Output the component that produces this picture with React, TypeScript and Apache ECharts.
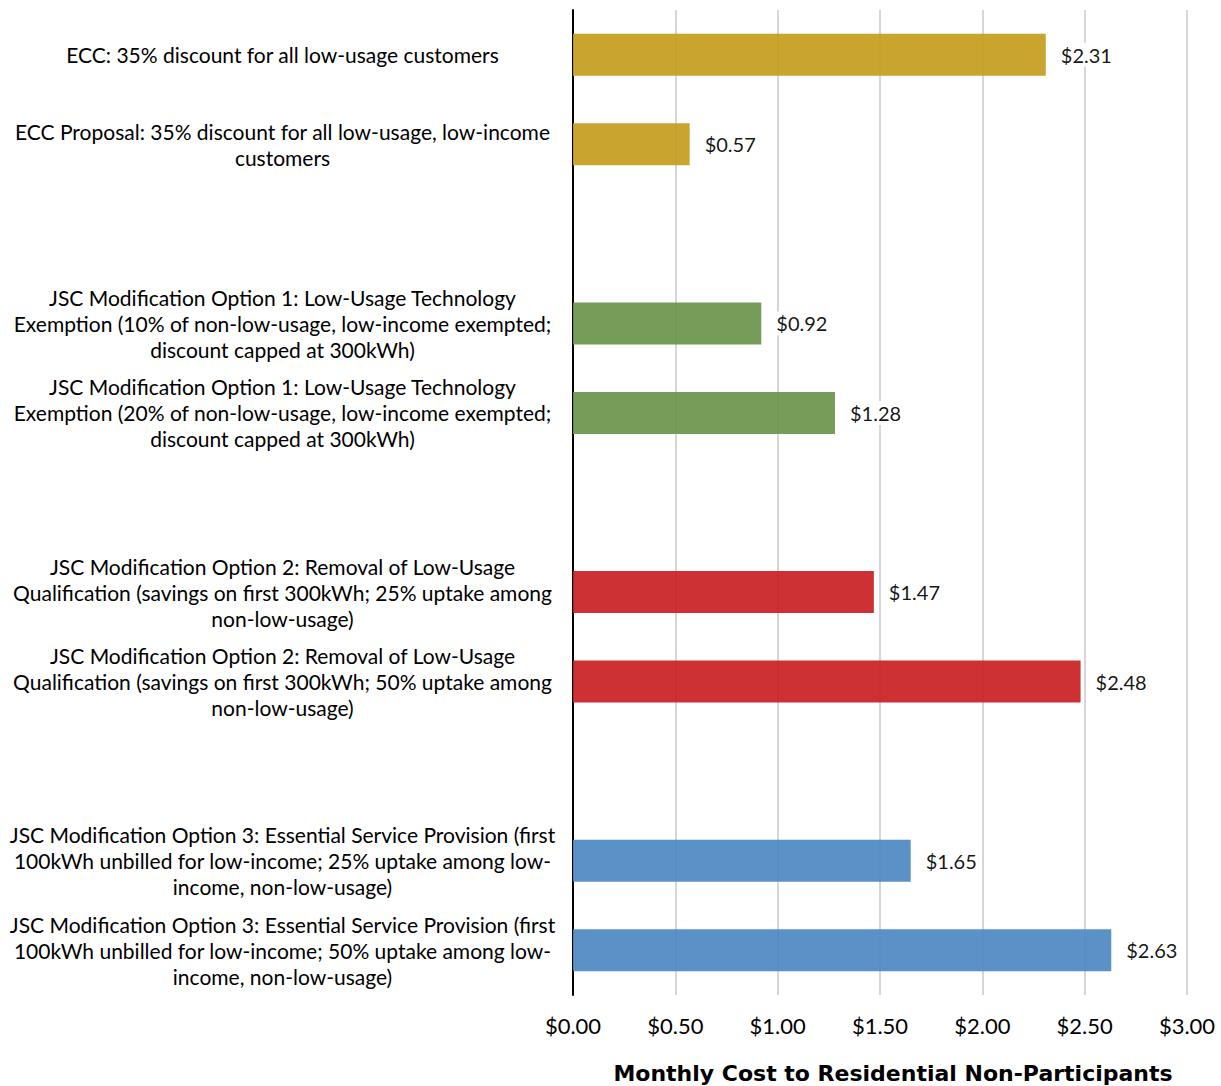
import React, { useEffect, useRef } from "react";
import * as echarts from "echarts";

const categories: string[] = [
  "ECC: 35% discount for all low-usage customers",
  "ECC Proposal: 35% discount for all low-usage, low-income\ncustomers",
  "",
  "JSC Modification Option 1: Low-Usage Technology\nExemption (10% of non-low-usage, low-income exempted;\ndiscount capped at 300kWh)",
  "JSC Modification Option 1: Low-Usage Technology\nExemption (20% of non-low-usage, low-income exempted;\ndiscount capped at 300kWh)",
  "",
  "JSC Modification Option 2: Removal of Low-Usage\nQualification (savings on first 300kWh; 25% uptake among\nnon-low-usage)",
  "JSC Modification Option 2: Removal of Low-Usage\nQualification (savings on first 300kWh; 50% uptake among\nnon-low-usage)",
  "",
  "JSC Modification Option 3: Essential Service Provision (first\n100kWh unbilled for low-income; 25% uptake among low-\nincome, non-low-usage)",
  "JSC Modification Option 3: Essential Service Provision (first\n100kWh unbilled for low-income; 50% uptake among low-\nincome, non-low-usage)",
];

const values: (number | null)[] = [2.31, 0.57, null, 0.92, 1.28, null, 1.47, 2.48, null, 1.65, 2.63];

const groupColors: string[] = [
  "#C49C1D", "#C49C1D", "#ffffff",
  "#6A944C", "#6A944C", "#ffffff",
  "#C92022", "#C92022", "#ffffff",
  "#4C89C3", "#4C89C3",
];

const xTicks = { min: 0, max: 3, interval: 0.5 };
const xAxisTitle = "Monthly Cost to Residential Non-Participants";

const FONT = "Lato, 'Open Sans', sans-serif";

export default function App() {
  const ref = useRef<HTMLDivElement>(null);
  useEffect(() => {
    if (!ref.current) return;
    const chart = echarts.init(ref.current, undefined, { renderer: "svg" });
    chart.setOption({
      animation: false,
      textStyle: { fontFamily: FONT },
      grid: {
        left: 573,
        right: 34,
        top: 10,
        bottom: 91,
        containLabel: false,
        outerBoundsMode: "none",
      },
      xAxis: {
        type: "value",
        min: xTicks.min,
        max: xTicks.max,
        interval: xTicks.interval,
        axisLine: { show: false },
        axisTick: { show: false },
        axisLabel: {
          color: "#000",
          fontSize: 22,
          fontFamily: FONT,
          margin: 19,
          formatter: (v: number) => "$" + v.toFixed(2),
        },
        splitLine: { show: true, lineStyle: { color: "#d6d6d6", width: 2 } },
        name: xAxisTitle,
        nameLocation: "middle",
        nameGap: 67,
        nameTextStyle: {
          color: "#000",
          fontSize: 22,
          fontWeight: "bold",
          fontFamily: "'DejaVu Sans', sans-serif",
          padding: [0, 0, 0, 26],
        },
      },
      yAxis: {
        type: "category",
        data: categories,
        inverse: true,
        axisLine: { show: true, lineStyle: { color: "#000", width: 2 } },
        axisTick: { show: false },
        splitLine: { show: false },
        axisLabel: {
          margin: 18,
          interval: 0,
          formatter: (v: string) =>
            v === "" ? "" : v.split("\n").map((l) => "{a|" + l + "}").join("\n"),
          rich: {
            a: {
              width: 545,
              align: "center",
              fontSize: 21,
              lineHeight: 26,
              color: "#000",
              fontFamily: FONT,
            },
          },
        },
      },
      series: [
        {
          type: "bar",
          barWidth: 42,
          data: values.map((v, i) => ({
            value: v,
            itemStyle: { color: groupColors[i], opacity: 0.92 },
          })),
          label: {
            show: true,
            position: "right",
            distance: 13,
            color: "#000",
            fontSize: 20,
            fontFamily: FONT,
            backgroundColor: "#fff",
            padding: [2, 2],
            formatter: (p: any) => (p.value == null ? "" : "$" + Number(p.value).toFixed(2)),
          },
        },
      ],
    });
    return () => chart.dispose();
  }, []);
  return (
    <div
      ref={ref}
      style={{ position: "absolute", left: 0, top: 0, width: 1221, height: 1086 }}
    />
  );
}
